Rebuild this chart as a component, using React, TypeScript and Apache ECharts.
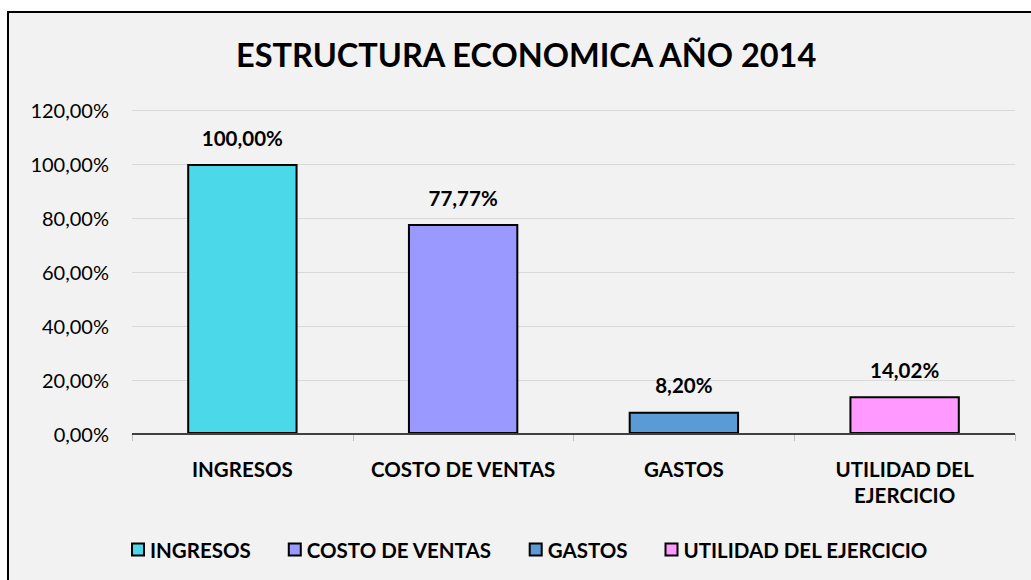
import React, { useEffect, useRef } from "react";
import * as echarts from "echarts";

const categories = ["INGRESOS", "COSTO DE VENTAS", "GASTOS", "UTILIDAD DEL\nEJERCICIO"];
const seriesNames = ["INGRESOS", "COSTO DE VENTAS", "GASTOS", "UTILIDAD DEL EJERCICIO"];
const values = [100.0, 77.77, 8.2, 14.02];
const colors = ["#4bd8e8", "#9999ff", "#5b9bd5", "#ff99ff"];
const yTicks = [0, 20, 40, 60, 80, 100, 120];

const FONT = "Lato, 'Open Sans', sans-serif";
const fmt = (v: number) => v.toFixed(2).replace(".", ",") + "%";

export default function App() {
  const ref = useRef<HTMLDivElement>(null);
  useEffect(() => {
    if (!ref.current) return;
    const chart = echarts.init(ref.current, undefined, { renderer: "svg" });
    const series: any[] = seriesNames.map((name, i) => ({
      name,
      type: "bar",
      stack: "all",
      barWidth: "50%",
      data: values.map((v, j) => (j === i ? v : "-")),
      itemStyle: { color: colors[i], borderColor: "#000", borderWidth: 2 },
      label: {
        show: true,
        position: "top",
        distance: 16,
        formatter: (p: any) => fmt(p.value),
        fontFamily: FONT,
        fontWeight: "bold",
        fontSize: 20.5,
        color: "#000",
      },
      markLine:
        i === 0
          ? {
              silent: true,
              symbol: "none",
              label: { show: false },
              lineStyle: { color: "#404040", width: 2, type: "solid" },
              data: [{ yAxis: 0 }],
            }
          : undefined,
    }));
    chart.setOption({
      animation: false,
      backgroundColor: "#f2f2f2",
      title: {
        text: "ESTRUCTURA ECONOMICA AÑO 2014",
        left: 222,
        top: 20,
        textStyle: { fontFamily: FONT, fontWeight: "bold", fontSize: 32.5, color: "#000" },
      },
      legend: {
        top: 521,
        left: 117,
        icon: "rect",
        itemWidth: 12,
        itemHeight: 12,
        itemGap: 37,
        data: seriesNames,
        textStyle: { fontFamily: FONT, fontWeight: "bold", fontSize: 20.5, color: "#000", padding: [0, 0, 0, 1] },
      },
      grid: { left: 123, right: 16, top: 97, bottom: 146, containLabel: false },
      xAxis: {
        type: "category",
        data: categories,
        offset: 2,
        axisLine: { lineStyle: { color: "#bfbfbf", width: 1 } },
        axisTick: { show: true, length: 7, lineStyle: { color: "#bfbfbf" } },
        axisLabel: {
          interval: 0,
          margin: 20,
          fontFamily: FONT,
          fontWeight: "bold",
          fontSize: 20.5,
          color: "#000",
          lineHeight: 26,
        },
      },
      yAxis: {
        type: "value",
        min: 0,
        max: 120,
        interval: 20,
        axisLine: { show: false },
        axisTick: { show: false },
        splitLine: { lineStyle: { color: "#d9d9d9", width: 1 } },
        axisLabel: {
          margin: 23,
          fontFamily: FONT,
          fontSize: 20,
          color: "#000",
          formatter: (v: number) => (yTicks.includes(v) ? fmt(v) : ""),
        },
      },
      series,
    });
    return () => chart.dispose();
  }, []);
  return (
    <div
      style={{
        position: "fixed",
        left: 7,
        top: 11,
        width: 1024,
        height: 569,
        borderLeft: "2px solid #000",
        borderTop: "2px solid #000",
        boxSizing: "border-box",
        background: "#f2f2f2",
      }}
    >
      <div ref={ref} style={{ width: 1022, height: 567 }} />
    </div>
  );
}
